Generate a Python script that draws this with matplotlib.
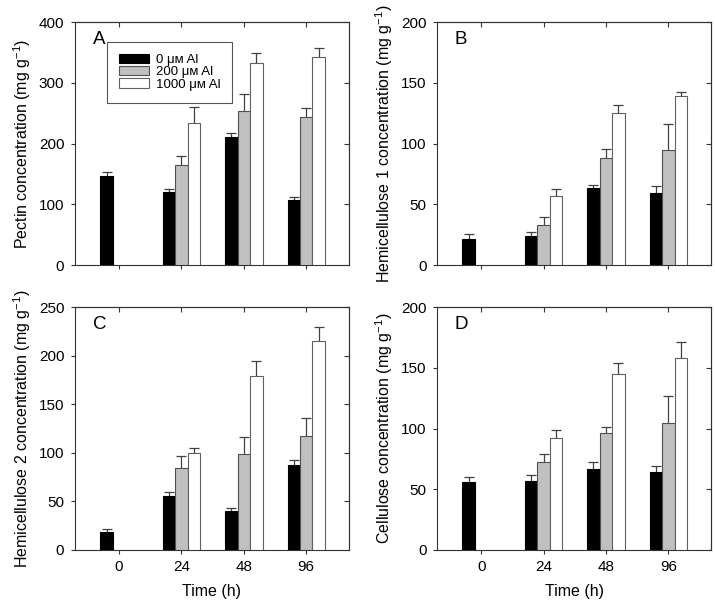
import matplotlib
matplotlib.use("Agg")
import matplotlib.pyplot as plt
import numpy as np

plt.rcParams['font.family'] = ['Liberation Sans', 'DejaVu Sans']
plt.rcParams['mathtext.default'] = 'regular'
plt.rcParams['font.size'] = 11

# x categories (h)
times = ['0', '24', '48', '96']
al_labels = ['0 μᴍ Al', '200 μᴍ Al', '1000 μᴍ Al']

# values; 0 µM at all times, 200/1000 µM only at 24, 48, 96 h
pectin_0 = [146, 121, 211.5, 106.5]
pectin_0_se = [7, 4, 6, 5.5]
pectin_200 = [164, 254, 244]
pectin_200_se = [16, 28, 15]
pectin_1000 = [234, 333.5, 342]
pectin_1000_se = [26, 15.5, 16]

hemi1_0 = [21.4, 24.2, 63.7, 59.3]
hemi1_0_se = [4.1, 3, 2, 5.8]
hemi1_200 = [33, 88.2, 95]
hemi1_200_se = [6.8, 7.4, 21.5]
hemi1_1000 = [56.9, 125, 139.3]
hemi1_1000_se = [5.5, 6.6, 3.3]

hemi2_0 = [18.9, 55.6, 40.2, 87.6]
hemi2_0_se = [3.1, 3.8, 3.4, 4.8]
hemi2_200 = [84.1, 98.9, 117.8]
hemi2_200_se = [12.7, 17.5, 17.8]
hemi2_1000 = [99.6, 179.3, 215.3]
hemi2_1000_se = [5.4, 14.7, 14.1]

cell_0 = [56.3, 56.9, 66.8, 64.3]
cell_0_se = [3.9, 5.2, 5.5, 5.2]
cell_200 = [72.5, 95.9, 104.9]
cell_200_se = [6.3, 5.1, 21.5]
cell_1000 = [92, 144.8, 157.7]
cell_1000_se = [6.9, 8.8, 13.2]

panels = [
    ('A', 'Pectin concentration (mg g$^{-1}$)', 400, 100,
     (pectin_0, pectin_0_se), (pectin_200, pectin_200_se), (pectin_1000, pectin_1000_se)),
    ('B', 'Hemicellulose 1 concentration (mg g$^{-1}$)', 200, 50,
     (hemi1_0, hemi1_0_se), (hemi1_200, hemi1_200_se), (hemi1_1000, hemi1_1000_se)),
    ('C', 'Hemicellulose 2 concentration (mg g$^{-1}$)', 250, 50,
     (hemi2_0, hemi2_0_se), (hemi2_200, hemi2_200_se), (hemi2_1000, hemi2_1000_se)),
    ('D', 'Cellulose concentration (mg g$^{-1}$)', 200, 50,
     (cell_0, cell_0_se), (cell_200, cell_200_se), (cell_1000, cell_1000_se)),
]

positions = [
    [0.1045, 0.559, 0.384, 0.404],
    [0.611, 0.559, 0.384, 0.404],
    [0.1045, 0.085, 0.384, 0.404],
    [0.611, 0.085, 0.384, 0.404],
]

fills = ['black', '#c0c0c0', 'white']
edges = ['black', '#505050', '#606060']
width = 0.2
spine_col = '#333333'

fig = plt.figure(figsize=(7.15, 6.01), dpi=100)
x = np.arange(len(times))

for i, (letter, ylabel, ymax, ystep, s0, s200, s1000) in enumerate(panels):
    ax = fig.add_axes(positions[i])
    handles = []
    for j, (vals, se) in enumerate([s0, s200, s1000]):
        xs = x[len(x) - len(vals):] + (j - 1) * width
        b = ax.bar(xs, vals, width, color=fills[j], edgecolor=edges[j],
                   linewidth=0.8, zorder=3, label=al_labels[j])
        ax.errorbar(xs, vals, yerr=se, fmt='none', ecolor='#404040',
                    elinewidth=0.9, capsize=3.8, capthick=0.9, zorder=2)
        handles.append(b)

    ax.set_xlim(-0.71, 3.69)
    ax.set_ylim(0, ymax)
    ax.set_yticks(np.arange(0, ymax + 1, ystep))
    ax.set_xticks(x)
    ax.set_ylabel(ylabel, fontsize=11.5, labelpad=4)
    ax.tick_params(direction='out', length=3, width=0.8, color=spine_col,
                   labelsize=11, pad=4.5)
    for sp in ax.spines.values():
        sp.set_color(spine_col)
        sp.set_linewidth(0.8)

    if i >= 2:
        ax.set_xticklabels(times)
        ax.set_xlabel('Time (h)', fontsize=11.5, labelpad=7)
    else:
        ax.set_xticklabels([])

    # inward ticks on the top and right edges
    top = ax.secondary_xaxis('top')
    top.set_xticks(x)
    top.tick_params(direction='in', length=3.5, width=0.8, color=spine_col,
                    labeltop=False)
    right = ax.secondary_yaxis('right')
    right.set_yticks(np.arange(0, ymax + 1, ystep))
    right.tick_params(direction='in', length=3.5, width=0.8, color=spine_col,
                      labelright=False)
    for sec in (top, right):
        for sp in sec.spines.values():
            sp.set_color(spine_col)
            sp.set_linewidth(0.8)

    ax.text(0.065, 0.965, letter, transform=ax.transAxes, fontsize=13.5,
            ha='left', va='top')

    if letter == 'A':
        leg = ax.legend(handles=handles, loc='upper left',
                        bbox_to_anchor=(0.118, 0.918), borderaxespad=0,
                        fontsize=9.5, handlelength=2.3, handleheight=0.7,
                        labelspacing=0.0, handletextpad=0.5, borderpad=0.9,
                        fancybox=False, framealpha=1, edgecolor='#555555')
        leg.get_frame().set_linewidth(0.8)

fig.savefig('out.png', dpi=100)
